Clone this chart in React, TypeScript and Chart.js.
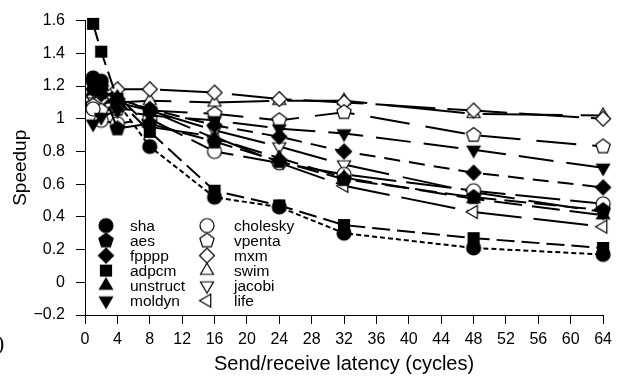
import React, { useEffect, useRef } from "react";
import { Chart, registerables } from "chart.js";

Chart.register(...registerables);

// ---- data ----
const latencies = [1, 2, 4, 8, 16, 24, 32, 48, 64];
const xTicks = [0, 4, 8, 12, 16, 20, 24, 28, 32, 36, 40, 44, 48, 52, 56, 60, 64];
const yTickValues = [-0.2, 0, 0.2, 0.4, 0.6, 0.8, 1, 1.2, 1.4, 1.6];
const yTickLabels = ["\u22120.2", "0", "0.2", "0.4", "0.6", "0.8", "1", "1.2", "1.4", "1.6"];

const sha = [1.25, 1.23, 1.1, 0.83, 0.52, 0.46, 0.3, 0.21, 0.17];
const aes = [1.22, 1.19, 0.94, 0.97, 0.86, 0.74, 0.63, 0.52, 0.44];
const fpppp = [1.18, 1.15, 1.12, 1.06, 0.96, 0.89, 0.8, 0.67, 0.58];
const adpcm = [1.58, 1.41, 1.12, 0.92, 0.56, 0.47, 0.35, 0.27, 0.21];
const unstruct = [1.17, 1.16, 1.13, 1.05, 0.88, 0.76, 0.64, 0.51, 0.41];
const moldyn = [0.97, 1.01, 1.05, 1.02, 0.99, 0.94, 0.91, 0.81, 0.7];
const cholesky = [1.06, 0.99, 0.97, 1.0, 0.8, 0.73, 0.66, 0.56, 0.48];
const vpenta = [1.08, 1.05, 1.06, 1.05, 1.03, 0.99, 1.04, 0.9, 0.83];
const mxm = [1.08, 1.12, 1.18, 1.18, 1.16, 1.12, 1.1, 1.05, 1.0];
const swim = [1.15, 1.12, 1.1, 1.11, 1.1, 1.11, 1.11, 1.03, 1.02];
const jacobi = [1.12, 1.1, 1.1, 1.05, 0.93, 0.83, 0.72, 0.55, 0.43];
const life = [1.1, 1.08, 1.14, 0.95, 0.89, 0.73, 0.59, 0.43, 0.34];

const seriesNames = ["sha", "aes", "fpppp", "adpcm", "unstruct", "moldyn", "cholesky", "vpenta", "mxm", "swim", "jacobi", "life"];
const seriesValues = [sha, aes, fpppp, adpcm, unstruct, moldyn, cholesky, vpenta, mxm, swim, jacobi, life];

// ---- styles ----
const shapes = ["circle", "pentagon", "diamond", "square", "triUp", "triDown", "circle", "pentagon", "diamond", "triUp", "triDown", "triLeft"];
const filledFlags = [true, true, true, true, true, true, false, false, false, false, false, false];
const dashes = [[5, 3], [22, 8], [16, 9], [18, 7], [28, 10], [35, 13], [45, 10], [40, 16], [60, 12], [80, 18], [50, 14], [55, 12]];

const FONT = '"Liberation Sans", Arial, Helvetica, sans-serif';

function makeMarker(shape: string, filled: boolean): HTMLCanvasElement {
  const c = document.createElement("canvas");
  c.width = 20;
  c.height = 20;
  const g = c.getContext("2d")!;
  g.translate(10, 10);
  g.beginPath();
  const poly = (pts: number[][]) => {
    g.moveTo(pts[0][0], pts[0][1]);
    for (let i = 1; i < pts.length; i++) g.lineTo(pts[i][0], pts[i][1]);
    g.closePath();
  };
  const ngon = (n: number, r: number, start: number) => {
    const pts: number[][] = [];
    for (let i = 0; i < n; i++) {
      const a = start + (i * 2 * Math.PI) / n;
      pts.push([r * Math.cos(a), r * Math.sin(a)]);
    }
    poly(pts);
  };
  switch (shape) {
    case "circle":
      g.arc(0, 0, 7, 0, Math.PI * 2);
      break;
    case "square":
      g.rect(-5.5, -5.5, 11, 11);
      break;
    case "diamond":
      poly([[0, -7.5], [7.5, 0], [0, 7.5], [-7.5, 0]]);
      break;
    case "pentagon":
      ngon(5, 7.5, -Math.PI / 2);
      break;
    case "triUp":
      ngon(3, 7.5, -Math.PI / 2);
      break;
    case "triDown":
      ngon(3, 7.5, Math.PI / 2);
      break;
    case "triLeft":
      ngon(3, 7.5, Math.PI);
      break;
  }
  g.fillStyle = filled ? "#000" : "#fff";
  g.fill();
  g.lineWidth = 1.2;
  g.strokeStyle = "#000";
  g.stroke();
  return c;
}

const insideLegend = {
  id: "insideLegend",
  afterDatasetsDraw(chart: any) {
    const { ctx, chartArea } = chart;
    ctx.save();
    ctx.font = `15.5px ${FONT}`;
    ctx.fillStyle = "#000";
    ctx.textBaseline = "middle";
    ctx.textAlign = "left";
    chart.data.datasets.forEach((ds: any, i: number) => {
      const col = Math.floor(i / 6);
      const row = i % 6;
      const mx = chartArea.left + (col ? 122 : 21);
      const tx = chartArea.left + (col ? 149 : 45);
      const y = chartArea.top + 205 + row * 15;
      const img = ds.pointStyle as HTMLCanvasElement;
      ctx.drawImage(img, mx - img.width / 2, y - img.height / 2);
      ctx.fillText(ds.label, tx, y + 1);
    });
    ctx.restore();
  },
};

export default function App() {
  const ref = useRef<HTMLCanvasElement>(null);

  useEffect(() => {
    if (!ref.current) return;
    const datasets = seriesNames.map((name, i) => ({
      label: name,
      data: latencies.map((x, j) => ({ x, y: seriesValues[i][j] })),
      borderColor: "#000",
      backgroundColor: "#000",
      borderWidth: 2,
      borderDash: dashes[i],
      pointStyle: makeMarker(shapes[i], filledFlags[i]),
      pointRadius: 7,
      pointHoverRadius: 7,
      tension: 0,
      fill: false,
      clip: false as any,
    }));

    const chart = new Chart(ref.current, {
      type: "line",
      data: { datasets },
      plugins: [insideLegend],
      options: {
        animation: false,
        responsive: false,
        devicePixelRatio: 1,
        layout: { padding: { top: 20, right: 13, bottom: 0, left: 0 } },
        plugins: {
          legend: { display: false },
          tooltip: { enabled: false },
        },
        scales: {
          x: {
            type: "linear",
            min: 0,
            max: 64,
            afterFit: (s: any) => {
              s.height = 64;
            },
            afterBuildTicks: (s: any) => {
              s.ticks = xTicks.map((v) => ({ value: v }));
            },
            ticks: {
              autoSkip: false,
              maxRotation: 0,
              color: "#000",
              padding: 6,
              font: { family: FONT, size: 16 },
              callback: (v: any) => String(v),
            },
            grid: {
              drawOnChartArea: false,
              drawTicks: true,
              tickLength: 9,
              color: "#000",
              lineWidth: 1,
            },
            border: { display: true, color: "#000", width: 1 },
            title: {
              display: true,
              text: "Send/receive latency (cycles)",
              color: "#000",
              font: { family: FONT, size: 20 },
              padding: { top: 0, bottom: 3 },
            },
          },
          y: {
            type: "linear",
            min: -0.2,
            max: 1.6,
            afterFit: (s: any) => {
              s.width = 85;
            },
            afterBuildTicks: (s: any) => {
              s.ticks = yTickValues.map((v) => ({ value: v }));
            },
            ticks: {
              autoSkip: false,
              color: "#000",
              padding: 11,
              font: { family: FONT, size: 16 },
              callback: (v: any) => {
                const idx = yTickValues.findIndex((t) => Math.abs(t - v) < 1e-6);
                return idx >= 0 ? yTickLabels[idx] : "";
              },
            },
            grid: {
              drawOnChartArea: false,
              drawTicks: true,
              tickLength: 9,
              color: "#000",
              lineWidth: 1,
            },
            border: { display: true, color: "#000", width: 1 },
            title: {
              display: true,
              text: "Speedup",
              color: "#000",
              font: { family: FONT, size: 19 },
              padding: { top: 9, bottom: 0 },
            },
          },
        },
      },
    });
    return () => chart.destroy();
  }, []);

  return (
    <div style={{ position: "absolute", left: 0, top: 0, width: 618, height: 379, background: "#fff", overflow: "hidden" }}>
      <canvas ref={ref} width={618} height={379} style={{ display: "block", width: 618, height: 379 }} />
      <div style={{ position: "absolute", left: -3, top: 330, font: "22px serif", color: "#000" }}>)</div>
    </div>
  );
}
